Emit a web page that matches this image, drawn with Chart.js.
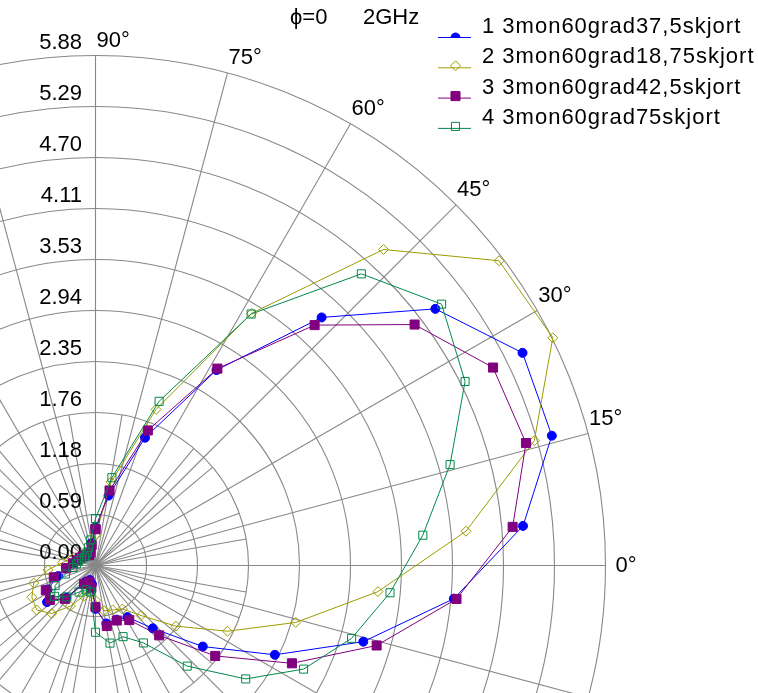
<!DOCTYPE html>
<html>
<head>
<meta charset="utf-8">
<script src="https://cdn.jsdelivr.net/npm/chart.js@4/dist/chart.umd.min.js"></script>
<style>
  html, body { margin: 0; padding: 0; background: #fff; overflow: hidden; }
  canvas { display: block; }
</style>
</head>
<body>
<canvas id="polar" width="758" height="693"></canvas>
<script>
// Sample directions (degrees, counter-clockwise from 0°), 34 steps around the pattern
const angles = [90, 79.41, 68.82, 58.24, 47.65, 37.06, 26.47, 15.88, 5.29, -5.29,
  -15.88, -26.47, -37.06, -47.65, -58.24, -68.82, -79.41, -90, -100.59, -111.18,
  -121.76, -132.35, -142.94, -153.53, -164.12, -174.71, -185.29, -195.88, -206.47,
  -217.06, -227.65, -238.24, -248.82, -259.41];

// Radial tick labels, one per ring (centre to outer ring)
const radiusLabels = ['0.00', '0.59', '1.18', '1.76', '2.35', '2.94', '3.53', '4.11', '4.70', '5.29', '5.88'];
const angleLabels = [0, 15, 30, 45, 60, 75, 90];
const rMax = 5.88;

const seriesNames = [
  '1 3mon60grad37,5skjort',
  '2 3mon60grad18,75skjort',
  '3 3mon60grad42,5skjort',
  '4 3mon60grad75skjort'
];

// Pattern magnitudes for each configuration, same order as `angles`
const skjort37_5 = [0.44, 0.82, 1.58, 2.65, 3.87, 4.91, 5.50, 5.47, 4.95, 4.15,
  3.21, 2.31, 1.55, 0.98, 0.70, 0.67, 0.68, 0.50, 0.22, 0.18,
  0.22, 0.50, 0.70, 0.62, 0.45, 0.34, 0.26, 0.22, 0.20, 0.18,
  0.16, 0.14, 0.16, 0.26];
const skjort18_75 = [0.35, 0.98, 1.93, 3.42, 4.93, 5.83, 5.89, 5.26, 4.29, 3.27,
  2.40, 1.70, 1.16, 0.78, 0.59, 0.55, 0.53, 0.40, 0.32, 0.38,
  0.55, 0.75, 0.85, 0.82, 0.74, 0.55, 0.38, 0.28, 0.22, 0.20,
  0.18, 0.16, 0.18, 0.24];
const skjort42_5 = [0.42, 0.88, 1.67, 2.67, 3.75, 4.61, 5.12, 5.16, 4.83, 4.18,
  3.37, 2.53, 1.73, 1.09, 0.74, 0.68, 0.71, 0.48, 0.26, 0.20,
  0.25, 0.52, 0.66, 0.64, 0.50, 0.34, 0.26, 0.22, 0.20, 0.18,
  0.16, 0.14, 0.16, 0.24];
const skjort75 = [0.54, 1.03, 2.03, 3.41, 4.55, 5.00, 4.76, 4.25, 3.79, 3.41,
  3.07, 2.68, 2.17, 1.57, 1.05, 0.88, 0.91, 0.77, 0.31, 0.30,
  0.36, 0.49, 0.59, 0.52, 0.36, 0.26, 0.22, 0.20, 0.18, 0.16,
  0.16, 0.18, 0.22, 0.30];

const seriesValues = [skjort37_5, skjort18_75, skjort42_5, skjort75];
const colors = ['#0000ff', '#9c9c00', '#800080', '#00884a'];
const fills = ['#0000ff', 'rgba(0,0,0,0)', '#800080', 'rgba(0,0,0,0)'];
const markers = ['circle', 'rectRot', 'rect', 'rect'];
const markerSizes = [4.5, 5, 6.4, 5.7];

const FONT = '22px "Liberation Sans", Arial, sans-serif';

// polar (r, deg) -> cartesian points, closing the loop
function toXY(values) {
  const pts = values.map((r, k) => {
    const t = angles[k] * Math.PI / 180;
    return { x: r * Math.cos(t), y: r * Math.sin(t) };
  });
  pts.push({ ...pts[0] });
  return pts;
}

// Plot geometry: pole position and outer ring radius in canvas pixels
const W = 758, H = 693, CX = 95.5, CY = 565.5, R_PX = 510;
const ppu = R_PX / rMax;

const polarGrid = {
  id: 'polarGrid',
  beforeDatasetsDraw(chart) {
    const { ctx, scales: { x, y } } = chart;
    const cx = x.getPixelForValue(0), cy = y.getPixelForValue(0);
    const unit = x.getPixelForValue(1) - cx;
    const outer = rMax * unit;
    const ring = outer / (radiusLabels.length - 1);
    ctx.save();
    ctx.strokeStyle = '#888888';
    ctx.lineWidth = 1.1;
    for (let k = 1; k < radiusLabels.length; k++) {
      ctx.beginPath();
      ctx.arc(cx, cy, k * ring, 0, Math.PI * 2);
      ctx.stroke();
    }
    // main spokes every 15 degrees
    for (let a = 0; a < 360; a += 15) {
      const t = a * Math.PI / 180;
      ctx.beginPath();
      ctx.moveTo(cx, cy);
      ctx.lineTo(cx + outer * Math.cos(t), cy - outer * Math.sin(t));
      ctx.stroke();
    }
    // short spokes near the pole
    for (let a = 0; a < 360; a += 10) {
      if (a % 15 === 0) continue;
      const t = a * Math.PI / 180;
      ctx.beginPath();
      ctx.moveTo(cx, cy);
      ctx.lineTo(cx + 3 * ring * Math.cos(t), cy - 3 * ring * Math.sin(t));
      ctx.stroke();
    }
    // labels
    ctx.fillStyle = '#000';
    ctx.font = FONT;
    ctx.textBaseline = 'middle';
    ctx.textAlign = 'right';
    radiusLabels.forEach((lab, k) => {
      ctx.fillText(lab, cx - 13.5, cy - k * ring - 13);
    });
    ctx.textAlign = 'left';
    angleLabels.forEach(a => {
      const t = a * Math.PI / 180;
      const ex = cx + outer * Math.cos(t), ey = cy - outer * Math.sin(t);
      if (a === 0) ctx.fillText(a + '°', ex + 10, ey);
      else ctx.fillText(a + '°', ex + 1, ey - 15);
    });
    ctx.restore();
  }
};

const legendBox = {
  id: 'legendBox',
  afterDraw(chart) {
    const { ctx } = chart;
    ctx.save();
    ctx.font = FONT;
    ctx.fillStyle = '#000';
    ctx.textBaseline = 'middle';
    ctx.textAlign = 'left';
    ctx.fillText('\u03D5=0', 290, 18);
    ctx.fillText('2GHz', 363, 18);
    chart.data.datasets.forEach((ds, i) => {
      const ly = 37.5 + 30.3 * i;
      ctx.strokeStyle = ds.borderColor;
      ctx.lineWidth = 1;
      ctx.beginPath();
      ctx.moveTo(438, ly);
      ctx.lineTo(471, ly);
      ctx.stroke();
      ctx.save();
      if (ds.pointStyle === 'circle') {
        ctx.beginPath();
        ctx.rect(430, ly - 20, 50, 20.5);
        ctx.clip();
      }
      ctx.strokeStyle = ds.pointBorderColor;
      ctx.fillStyle = ds.pointBackgroundColor;
      ctx.lineWidth = 1;
      Chart.helpers.drawPoint(ctx, {
        pointStyle: ds.pointStyle,
        radius: ds.pointRadius,
        borderWidth: 1,
        rotation: 0
      }, 455.5, ds.pointStyle === 'circle' ? ly : ly - 2);
      ctx.restore();
      ctx.fillStyle = '#000';
      if ('letterSpacing' in ctx) ctx.letterSpacing = '1px';
      ctx.fillText(ds.label, 482, ly - 10.5);
      if ('letterSpacing' in ctx) ctx.letterSpacing = '0px';
    });
    ctx.restore();
  }
};

new Chart(document.getElementById('polar'), {
  type: 'scatter',
  data: {
    datasets: seriesValues.map((vals, i) => ({
      label: seriesNames[i],
      data: toXY(vals),
      showLine: true,
      borderColor: colors[i],
      backgroundColor: fills[i],
      pointBorderColor: colors[i],
      pointBackgroundColor: fills[i],
      pointStyle: markers[i],
      pointRadius: markerSizes[i],
      pointHoverRadius: markerSizes[i],
      pointBorderWidth: 1,
      borderWidth: 1,
      tension: 0,
      order: seriesValues.length - 1 - i
    }))
  },
  options: {
    responsive: false,
    animation: false,
    devicePixelRatio: 1,
    layout: { padding: 0, autoPadding: false },
    events: [],
    scales: {
      x: { type: 'linear', display: false, min: -CX / ppu, max: (W - CX) / ppu },
      y: { type: 'linear', display: false, min: -(H - CY) / ppu, max: CY / ppu }
    },
    plugins: { legend: { display: false }, tooltip: { enabled: false } }
  },
  plugins: [polarGrid, legendBox]
});
</script>
</body>
</html>
